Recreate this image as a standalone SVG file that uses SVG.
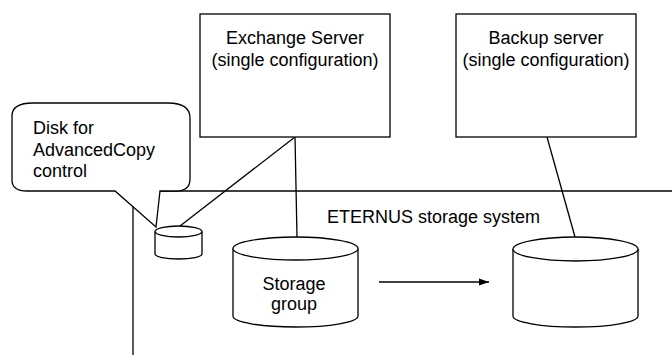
<svg xmlns="http://www.w3.org/2000/svg" width="672" height="358" viewBox="0 0 672 358">
<defs>
<style>
.ln{stroke:#000;stroke-width:1.3;fill:none}
.sh{stroke:#000;stroke-width:1.3;fill:#fff}
.t{font-family:"Liberation Sans",Arial,sans-serif;font-size:18px;fill:#000}
.m{text-anchor:middle}
</style>
<marker id="ah" markerWidth="10" markerHeight="8" refX="10" refY="4" orient="auto" markerUnits="userSpaceOnUse">
<path d="M0,0.5 L10,4 L0,7.5 Z" fill="#000"/>
</marker>
</defs>
<rect width="672" height="358" fill="#fff"/>
<g id="connectors">
<path class="ln" d="M133,191 L672,191"/>
<path class="ln" d="M133,191 L133,355"/>
<path class="ln" d="M295,137 L297,237"/>
<path class="ln" d="M295,137 L180,226"/>
<path class="ln" d="M547,137 L575,237"/>
<path class="ln" d="M379,282 L489,282" marker-end="url(#ah)"/>
</g>
<g id="exchange-server">
<rect class="sh" x="200" y="14" width="190" height="123"/>
<text class="t m" x="295" y="44">Exchange Server</text>
<text class="t m" x="295" y="66">(single configuration)</text>
</g>
<g id="backup-server">
<rect class="sh" x="456" y="14" width="180" height="123"/>
<text class="t m" x="546" y="44">Backup server</text>
<text class="t m" x="546" y="66">(single configuration)</text>
</g>
<g id="callout">
<path class="sh" d="M33,103 L168,103 Q190,103 190,118 L190,179 Q190,191 176,191 L160,191 L156,227 L115,191 L27,191 Q12,191 12,180 L12,116 Q12,103 33,103 Z"/>
<text class="t" x="33" y="134">Disk for</text>
<text class="t" x="33" y="156">AdvancedCopy</text>
<text class="t" x="33" y="177">control</text>
</g>
<g id="control-disk">
<path class="sh" d="M155,231.5 L155,254 A23.5,5 0 0 0 202,254 L202,231.5"/>
<ellipse class="sh" cx="178.5" cy="231.5" rx="23.5" ry="5.5"/>
</g>
<g id="eternus-label">
<text class="t" x="327" y="223">ETERNUS storage system</text>
</g>
<g id="storage-group">
<path class="sh" d="M233,248.5 L233,316 A62.5,11 0 0 0 358,316 L358,248.5"/>
<ellipse class="sh" cx="295.5" cy="248.5" rx="62.5" ry="11.5"/>
<text class="t m" x="294" y="290">Storage</text>
<text class="t m" x="294" y="310">group</text>
</g>
<g id="backup-disk">
<path class="sh" d="M513,249 L513,316 A62.5,11 0 0 0 638,316 L638,249"/>
<ellipse class="sh" cx="575.5" cy="249" rx="62.5" ry="12"/>
</g>
</svg>
